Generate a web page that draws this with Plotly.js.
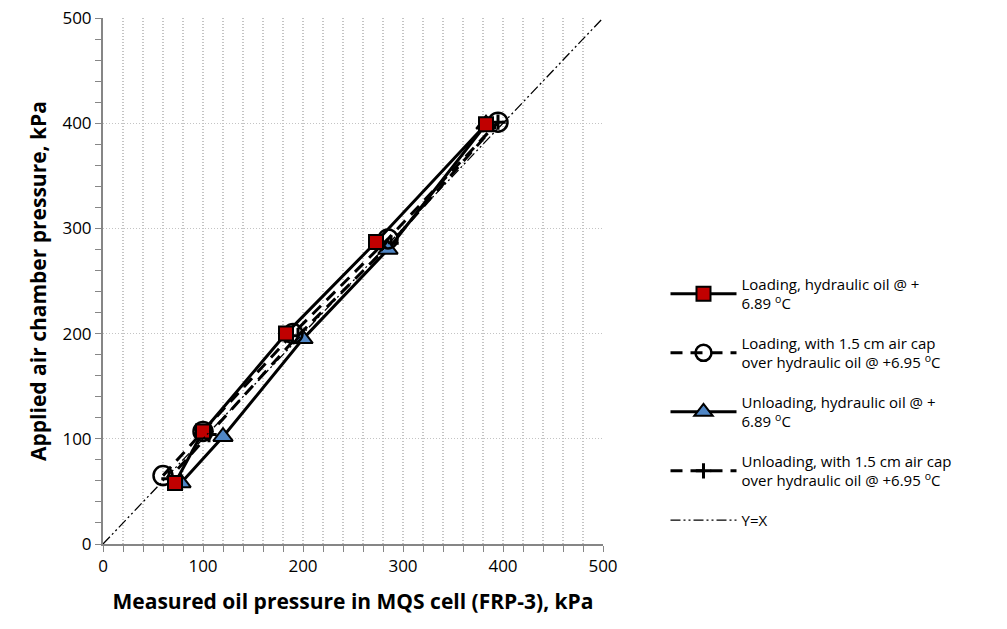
<!DOCTYPE html>
<html>
<head>
<meta charset="utf-8">
<script src="https://cdn.plot.ly/plotly-3.0.1.min.js"></script>
<style>html,body{margin:0;padding:0;background:#fff;}#chart{width:1007px;height:629px;}</style>
</head>
<body>
<div id="chart"></div>
<script>
// Data (kPa)
const loadOilX = [72, 100, 183, 273, 383];
const loadOilY = [58, 107, 200, 287, 399];
const loadAirX = [60, 100, 190, 285, 395];
const loadAirY = [65, 107, 200, 290, 401];
const unloadOilX = [383, 285, 200, 120, 78];
const unloadOilY = [399, 280, 195, 102, 58];
const unloadAirX = [395, 288, 195, 106, 66];
const unloadAirY = [401, 286, 198, 104, 62];
const yxX = [0, 500];
const yxY = [0, 500];
const names = [
  'Loading, hydraulic oil @ +<br>6.89 <sup>o</sup>C',
  'Loading, with 1.5 cm air cap<br>over hydraulic oil @ +6.95 <sup>o</sup>C',
  'Unloading, hydraulic oil @ +<br>6.89 <sup>o</sup>C',
  'Unloading, with 1.5 cm air cap<br>over hydraulic oil @ +6.95 <sup>o</sup>C',
  'Y=X'
];

const F = 'Open Sans, Lato, sans-serif';
const traces = [
  {x: unloadAirX, y: unloadAirY, name: names[3], mode: 'lines+markers', legendrank: 4, legendgroup: 'd',
   line: {color: '#000', width: 3, dash: '12px,8px'},
   marker: {symbol: 'cross-thin', size: 11, color: '#000', line: {color: '#000', width: 3}}},
  {x: unloadOilX, y: unloadOilY, name: names[2], mode: 'lines+markers', legendrank: 3, legendgroup: 'c',
   line: {color: '#000', width: 3},
   marker: {symbol: 'triangle-up', size: 17, color: '#4f86c6', line: {color: '#000', width: 2}}},
  {x: loadAirX, y: loadAirY, name: names[1], mode: 'lines+markers', legendrank: 2, legendgroup: 'b',
   line: {color: '#000', width: 3, dash: '12px,8px'},
   marker: {symbol: 'circle-open', size: 19, color: '#000', line: {color: '#000', width: 2.5}}},
  {x: loadOilX, y: loadOilY, name: names[0], mode: 'lines+markers', legendrank: 1, legendgroup: 'a',
   line: {color: '#000', width: 3},
   marker: {symbol: 'square', size: 14, color: '#c00000', line: {color: '#000', width: 2}}},
  {x: yxX, y: yxY, name: names[4], mode: 'lines', legendrank: 5, legendgroup: 'e',
   line: {color: '#000', width: 1.3, dash: '10px,3px,2px,3px,2px,3px'}}
];

const layout = {
  width: 1007, height: 629,
  margin: {l: 103, r: 404, t: 18, b: 85},
  paper_bgcolor: '#fff', plot_bgcolor: '#fff',
  font: {family: F, size: 16, color: '#000'},
  showlegend: true,
  legend: {x: 1.125, xanchor: 'left', y: 0.525, yanchor: 'top', traceorder: 'grouped',
           font: {family: F, size: 15, color: '#000'}, tracegroupgap: 17, itemwidth: 66,
           bgcolor: 'rgba(0,0,0,0)'},
  xaxis: {range: [0, 500], dtick: 100, tick0: 0, showline: true, linecolor: '#868686', linewidth: 2,
          ticks: 'outside', ticklen: 6, tickcolor: '#868686', tickwidth: 1,
          showgrid: true, gridcolor: '#c4c4c4', griddash: '1px,2px', gridwidth: 1.3, zeroline: false,
          minor: {dtick: 20, showgrid: true, gridcolor: '#c4c4c4', griddash: '1px,2px', gridwidth: 1.3,
                  ticks: 'outside', ticklen: 6, tickcolor: '#868686'},
          tickfont: {family: F, size: 17, color: '#000'},
          title: {text: '<b>Measured oil pressure in MQS cell (FRP-3), kPa</b>', standoff: 18,
                  font: {family: F, size: 21, color: '#000'}}},
  yaxis: {range: [0, 500], dtick: 100, tick0: 0, showline: true, linecolor: '#868686', linewidth: 2,
          ticks: 'outside', ticklen: 6, tickcolor: '#868686', tickwidth: 1,
          showgrid: true, gridcolor: '#c4c4c4', griddash: '1px,2px', gridwidth: 1.3, zeroline: false,
          minor: {dtick: 20, showgrid: false, ticks: 'outside', ticklen: 6, tickcolor: '#868686'},
          tickfont: {family: F, size: 17, color: '#000'},
          title: {text: '<b>Applied air chamber pressure, kPa</b>', standoff: 10,
                  font: {family: F, size: 21, color: '#000'}}}
};

Plotly.newPlot('chart', traces, layout, {displayModeBar: false, staticPlot: true});
</script>
</body>
</html>
